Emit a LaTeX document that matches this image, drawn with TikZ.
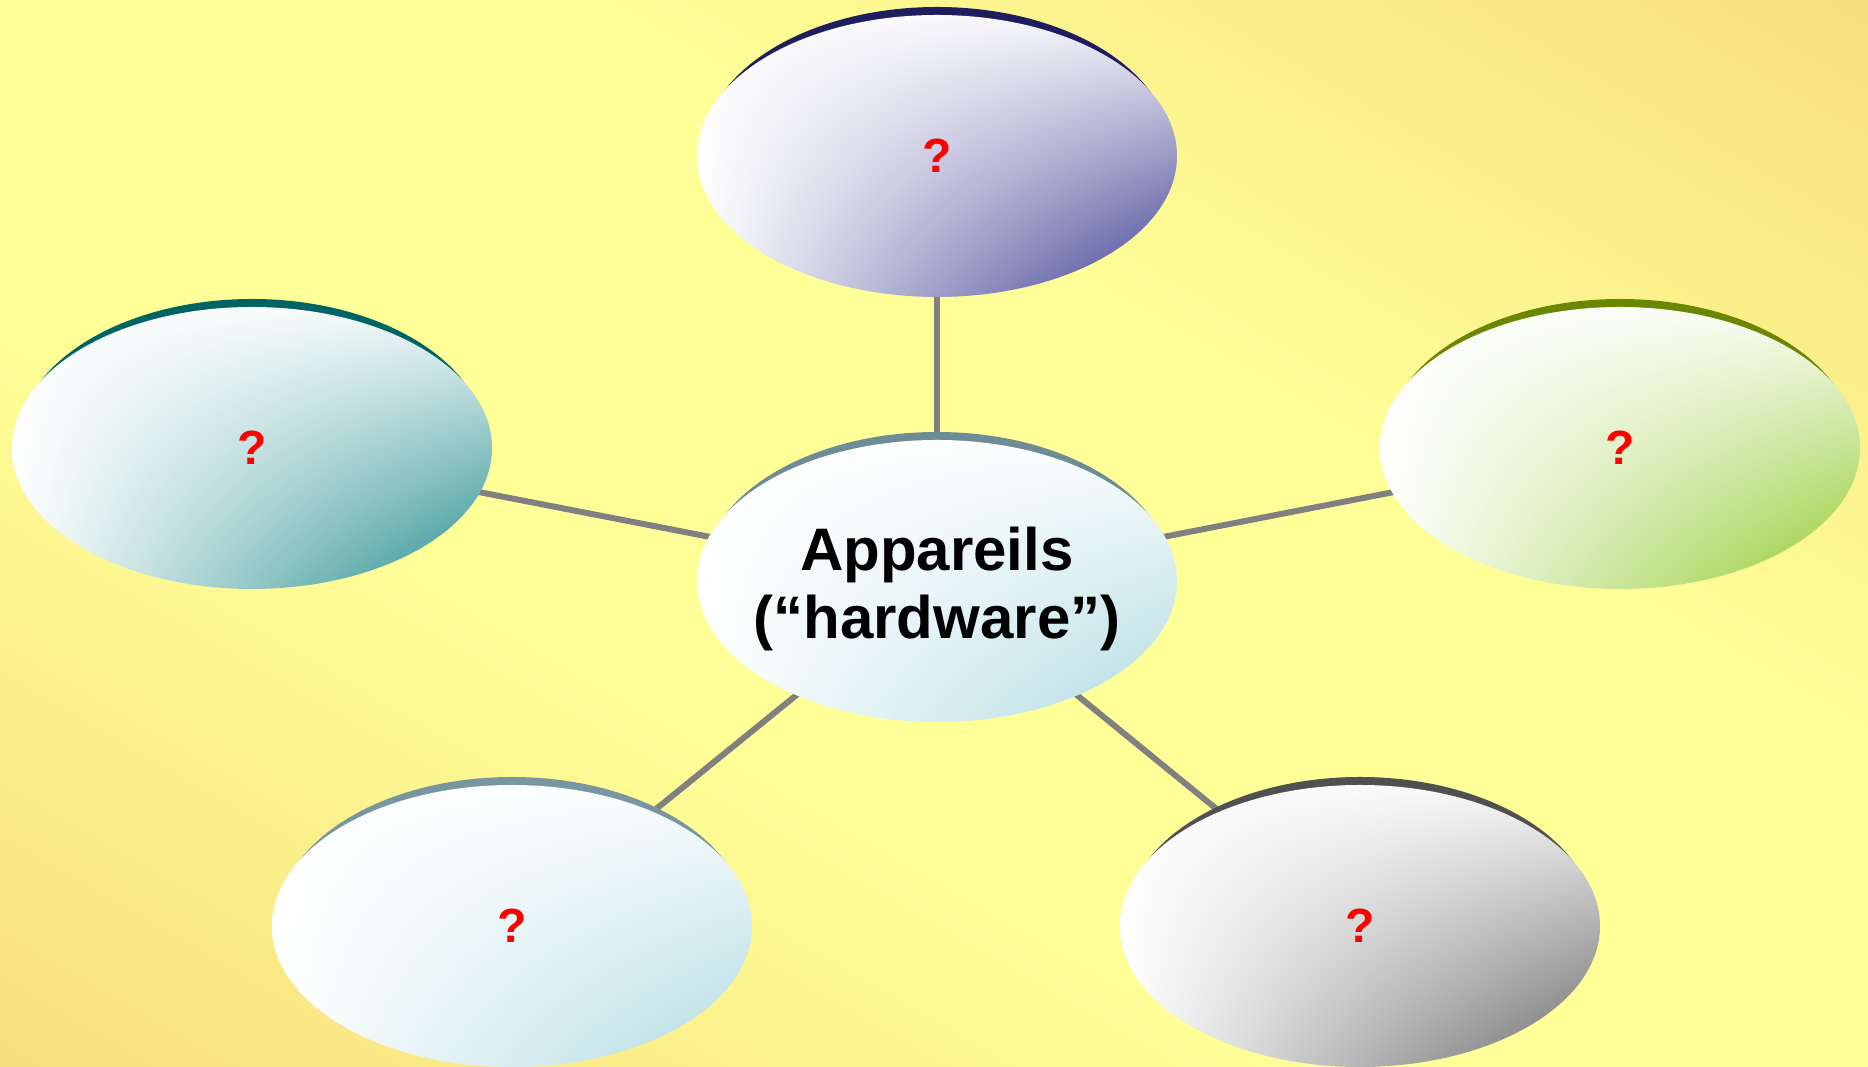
\documentclass[tikz,border=0pt]{standalone}
\usepackage{fontspec}
\setmainfont{Liberation Sans}
\usetikzlibrary{shapes.geometric,shadings}
\pgfdeclarelayer{back}
\pgfdeclarelayer{mid}
\pgfsetlayers{back,mid,main}
\definecolor{bgpale}{RGB}{255,255,152}
\definecolor{bgorng}{RGB}{245,211,115}
\pgfdeclareverticalshading{bgshade}{100bp}{color(0bp)=(bgorng); color(7bp)=(bgorng); color(40bp)=(bgpale); color(60bp)=(bgpale); color(93bp)=(bgorng); color(100bp)=(bgorng)}
\definecolor{cTop}{RGB}{60,60,145}
\definecolor{bTop}{RGB}{30,30,95}
\definecolor{cLeft}{RGB}{35,140,140}
\definecolor{bLeft}{RGB}{0,100,100}
\definecolor{cRight}{RGB}{145,202,45}
\definecolor{bRight}{RGB}{105,135,0}
\definecolor{cBL}{RGB}{175,218,225}
\definecolor{bBL}{RGB}{120,150,160}
\definecolor{cBR}{RGB}{105,105,105}
\definecolor{bBR}{RGB}{80,80,80}
\definecolor{cCen}{RGB}{175,218,225}
\definecolor{bCen}{RGB}{110,140,150}
\definecolor{linkgray}{RGB}{128,128,128}
\definecolor{qred}{RGB}{255,0,0}
\tikzset{
  bubble/.style={ellipse, minimum width=480pt, minimum height=282pt, inner sep=0pt,
    upper left=white, lower left=white, upper right=#1!6!white, lower right=#1},
  qmark/.style={text=qred, font=\fontsize{48}{50}\selectfont\bfseries},
  link/.style={draw=linkgray, line width=6pt},
}
\newcommand{\rimof}[2]{\fill[#1] ([yshift=5pt]#2.center) ellipse [x radius=234pt, y radius=144pt];}
\begin{document}
\begin{tikzpicture}[x=1pt,y=1pt]
\begin{pgfonlayer}{back}
\shade[shading=bgshade, shading angle=-30] (0,0) rectangle (1868,1067);
\end{pgfonlayer}
\useasboundingbox (0,0) rectangle (1868,1067);
% nodes (px y converted: y = 1067 - py)
\node[bubble=cCen, label={[font=\fontsize{60}{68}\selectfont\bfseries, align=center, yshift=-8pt]center:Appareils\\(“hardware”)}] (c) at (937,486) {};
\node[bubble=cTop, qmark] (t) at (937,911) {?};
\node[bubble=cLeft, qmark] (l) at (252,619) {?};
\node[bubble=cRight, qmark] (r) at (1620,619) {?};
\node[bubble=cBL, qmark] (bl) at (512,141) {?};
\node[bubble=cBR, qmark] (br) at (1360,141) {?};
\begin{pgfonlayer}{mid}
\draw[link] (c.center) -- (t.center);
\draw[link] (c.center) -- (l.center);
\draw[link] (c.center) -- (r.center);
\draw[link] (c.center) -- (bl.center);
\draw[link] (c.center) -- (br.center);
\rimof{bCen}{c}
\rimof{bTop}{t}
\rimof{bLeft}{l}
\rimof{bRight}{r}
\rimof{bBL}{bl}
\rimof{bBR}{br}
\end{pgfonlayer}
\end{tikzpicture}
\end{document}
